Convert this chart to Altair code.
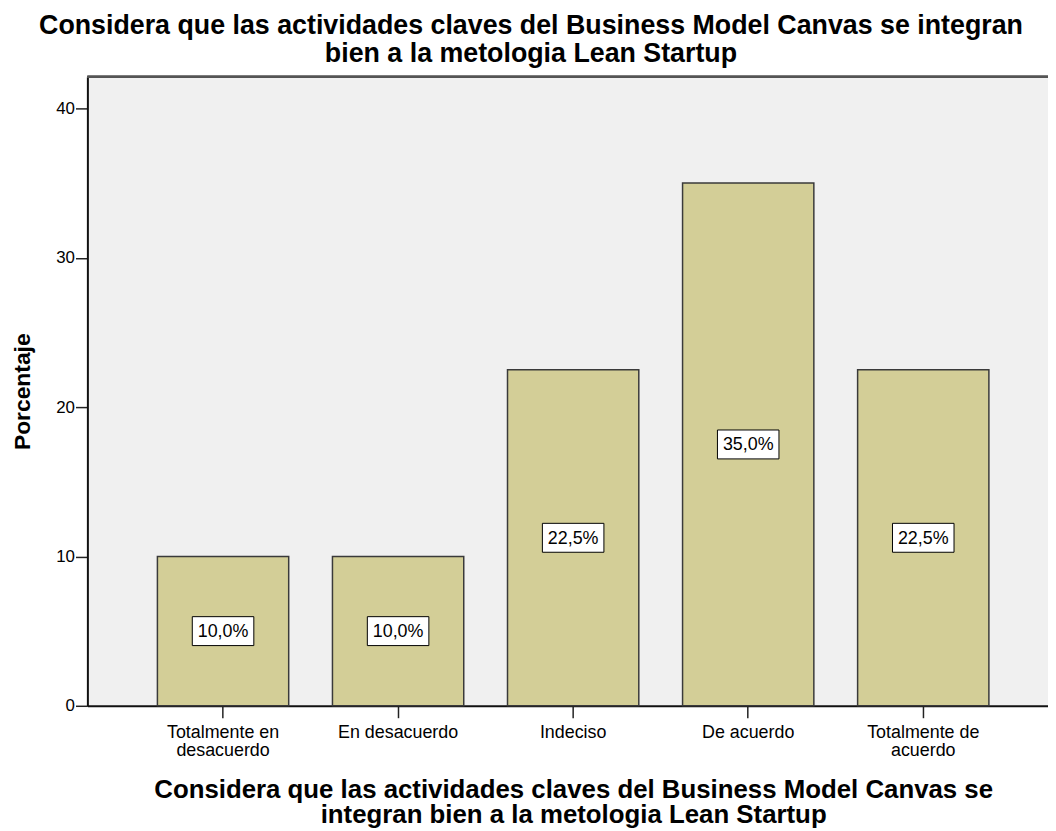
import altair as alt
import pandas as pd

categories = ["Totalmente en\ndesacuerdo", "En desacuerdo", "Indeciso", "De acuerdo", "Totalmente de\nacuerdo"]
values = [10.0, 10.0, 22.5, 35.0, 22.5]
value_labels = ["10,0%", "10,0%", "22,5%", "35,0%", "22,5%"]
y_ticks = [0, 10, 20, 30, 40]

title_lines = ["Considera que las actividades claves del Business Model Canvas se integran",
               "bien a  la metologia Lean Startup"]
x_title = ["Considera que las actividades claves del Business Model Canvas se",
           "integran bien a  la metologia Lean Startup"]
y_title = "Porcentaje"

df = pd.DataFrame({"cat": categories, "val": values, "lab": value_labels})
df["mid"] = df["val"] / 2

FONT = "Liberation Sans"
W, H = 968, 634

xscale = alt.Scale(domain=categories, range=[0, 979], paddingInner=0.25, paddingOuter=0.4)
yscale = alt.Scale(domain=[0, 42.13], nice=False, zero=True)

x_enc = alt.X("cat:N", scale=xscale, sort=categories,
              axis=alt.Axis(title=x_title, labelAngle=0, labelExpr="split(datum.label, '\\n')",
                            labelFont=FONT, labelFontSize=18, labelColor="#000", labelLineHeight=18,
                            labelPadding=6, tickSize=12, tickColor="#222", tickWidth=1.5,
                            domainColor="#111", domainWidth=2,
                            titleFont=FONT, titleFontSize=26, titleFontWeight="bold",
                            titleColor="#000", titleLineHeight=26, titlePadding=17))

bars = alt.Chart(df).mark_bar(fill="#D3CE97", stroke="#3a3a3a", strokeWidth=1.5).encode(
    x=x_enc,
    y=alt.Y("val:Q", scale=yscale,
            axis=alt.Axis(title=y_title, values=y_ticks, grid=False,
                          labelFont=FONT, labelFontSize=17, labelColor="#000", labelPadding=1,
                          tickSize=12, tickColor="#222", tickWidth=1.5,
                          domainColor="#111", domainWidth=2,
                          titleFont=FONT, titleFontSize=23, titleFontWeight="bold",
                          titleColor="#000", titlePadding=21)),
)

boxes = alt.Chart(df).mark_point(
    shape="M-1,-0.47L1,-0.47L1,0.47L-1,0.47Z", size=3844, filled=True,
    fill="white", stroke="#000", strokeWidth=1, opacity=1,
).encode(x=alt.X("cat:N", scale=xscale, sort=categories), y=alt.Y("mid:Q", scale=yscale))

texts = alt.Chart(df).mark_text(font=FONT, fontSize=18, color="#000", baseline="middle", dy=1).encode(
    x=alt.X("cat:N", scale=xscale, sort=categories), y=alt.Y("mid:Q", scale=yscale), text="lab:N"
)

top_line = alt.Chart(df).mark_rule(color="#555", strokeWidth=2).encode(
    y=alt.value(0), x=alt.value(0), x2=alt.value(W)
)

chart = alt.layer(bars, boxes, texts, top_line).properties(
    width=W, height=H, background="white",
    title=alt.TitleParams(text=title_lines, font=FONT, fontSize=27, fontWeight="bold", color="#000",
                          anchor="middle", frame="group", dx=-37, lineHeight=28, offset=8),
    autosize=alt.AutoSizeParams(type="none"),
    padding={"left": 80, "top": 66, "right": 0, "bottom": 123},
).configure_view(fill="#F0F0F0", strokeWidth=0)

chart.save("out.html", embed_options={"renderer": "svg", "actions": False})
